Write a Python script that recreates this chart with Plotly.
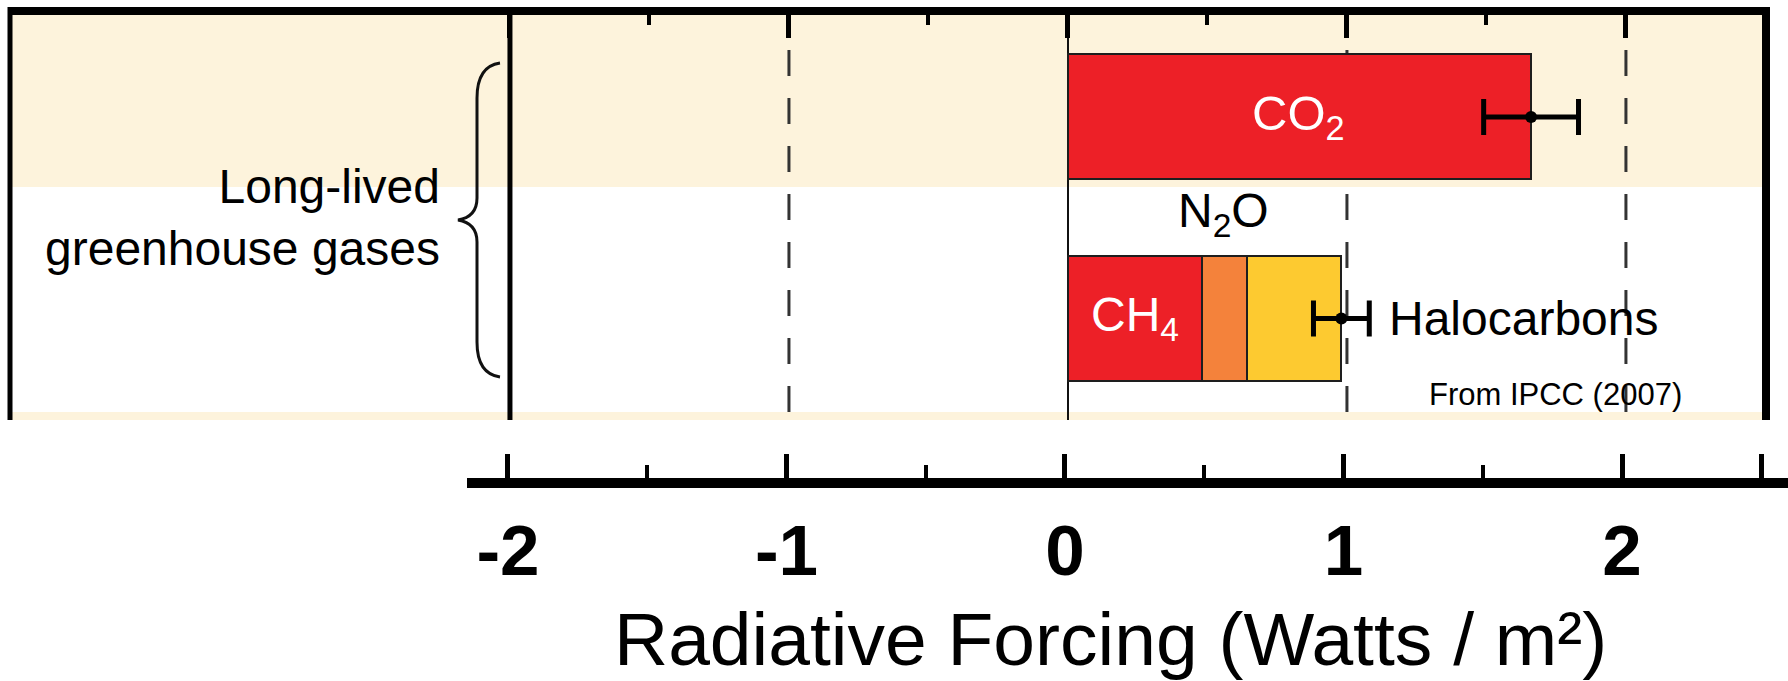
import plotly.graph_objects as go

W, H = 1788, 681

# Radiative forcing of the long-lived greenhouse gases (W/m²)
gases = ["CO<sub>2</sub>", "CH<sub>4</sub>", "N<sub>2</sub>O", "Halocarbons"]
forcing = [1.66, 0.48, 0.16, 0.34]
rows = [1, 0, 0, 0]
colors = ["#ED2027", "#ED2027", "#F4823B", "#FDCA30"]

# Uncertainty range of each row total
row_ids = [1, 0]
range_low = [1.49, 0.88]
range_high = [1.83, 1.08]

tick_vals = [-2, -1, 0, 1, 2]
tick_text = ["-2", "-1", "0", "1", "2"]
minor_vals = [-1.5, -0.5, 0.5, 1.5]
dashed_guides = [-1, 1, 2]

FONT = "Liberation Sans, Arial, sans-serif"


def px(x):
    return x / W


def py(y):
    return 1 - y / H


fig = go.Figure()

for g, v, r, c in zip(gases, forcing, rows, colors):
    fig.add_trace(go.Bar(
        x=[v], y=[r], orientation="h", width=0.62, name=g,
        marker=dict(color=c, line=dict(color="#1e1e1e", width=2)),
        showlegend=False, hoverinfo="skip",
    ))

# row totals with uncertainty bars
totals = [sum(v for v, r in zip(forcing, rows) if r == rid) for rid in row_ids]
fig.add_trace(go.Scatter(
    x=totals, y=row_ids, mode="markers",
    marker=dict(color="black", size=12),
    error_x=dict(type="data", symmetric=False,
                 array=[h - t for h, t in zip(range_high, totals)],
                 arrayminus=[t - l for l, t in zip(range_low, totals)],
                 color="black", thickness=5, width=18),
    showlegend=False, hoverinfo="skip",
))

# carrier for the separate forcing scale below the panel
fig.add_trace(go.Scatter(
    x=tick_vals, y=[0.5] * len(tick_vals), xaxis="x2", yaxis="y2",
    mode="markers", marker=dict(size=1, opacity=0),
    showlegend=False, hoverinfo="skip",
))

shapes = []
# shaded row bands
shapes.append(dict(type="rect", xref="x domain", yref="y", x0=0, x1=1, y0=0.6526, y1=1.52,
                   fillcolor="#FDF3DC", line_width=0, layer="below"))
shapes.append(dict(type="rect", xref="x domain", yref="y", x0=0, x1=1, y0=-0.504, y1=-0.464,
                   fillcolor="#FDF3DC", line_width=0, layer="below"))
# dashed guides
for v in dashed_guides:
    shapes.append(dict(type="line", xref="x", yref="paper", x0=v, x1=v, y0=py(50), y1=py(420),
                       line=dict(color="#333", width=3, dash="26px,22px"), layer="below"))
# frame
shapes.append(dict(type="line", xref="paper", yref="paper", x0=px(10), x1=px(10), y0=py(7), y1=py(420),
                   line=dict(color="black", width=5)))
shapes.append(dict(type="line", xref="paper", yref="paper", x0=px(1766), x1=px(1766), y0=py(7), y1=py(420),
                   line=dict(color="black", width=8)))
shapes.append(dict(type="line", xref="x", yref="paper", x0=-2, x1=-2, y0=py(7), y1=py(420),
                   line=dict(color="black", width=5)))

# curly brace grouping the rows
brace = [("M", [(500, 63)]),
         ("C", [(486, 65), (477, 76), (477, 98)]),
         ("L", [(477, 198)]),
         ("C", [(477, 211), (470, 218), (458, 220)]),
         ("C", [(470, 222), (477, 229), (477, 242)]),
         ("L", [(477, 342)]),
         ("C", [(477, 364), (486, 375), (500, 377)])]
path = " ".join(cmd + " ".join(f"{px(a):.5f},{py(b):.5f}" for a, b in pts) for cmd, pts in brace)
shapes.append(dict(type="path", xref="paper", yref="paper", path=path,
                   line=dict(color="#111", width=3)))

annotations = [
    dict(x=0.828, y=1, xref="x", yref="y", text="CO<sub>2</sub>", showarrow=False,
         font=dict(family=FONT, size=49, color="white"), xanchor="center", yanchor="middle"),
    dict(x=0.24, y=0.0, xref="x", yref="y", text="CH<sub>4</sub>", showarrow=False,
         font=dict(family=FONT, size=48, color="white"), xanchor="center", yanchor="middle"),
    dict(x=0.559, y=0.52, xref="x", yref="y", text="N<sub>2</sub>O", showarrow=False,
         font=dict(family=FONT, size=48, color="black"), xanchor="center", yanchor="middle"),
    dict(x=1.145, y=0.0, xref="x", yref="y", text="Halocarbons", showarrow=False,
         font=dict(family=FONT, size=48, color="black"), xanchor="left", yanchor="middle"),
    dict(x=1.749, y=-0.375, xref="x", yref="y", text="From IPCC (2007)", showarrow=False,
         font=dict(family=FONT, size=31, color="black"), xanchor="center", yanchor="middle"),
    dict(x=-2.244, y=0.5, xref="x", yref="y", text="Long-lived<br>greenhouse gases", showarrow=False,
         align="right", font=dict(family=FONT, size=48, color="black"), xanchor="right", yanchor="middle"),
    dict(x=px(1110), y=py(639), xref="paper", yref="paper",
         text="Radiative Forcing (Watts / m²)", showarrow=False,
         font=dict(family=FONT, size=75, color="black"), xanchor="center", yanchor="middle"),
]

fig.update_layout(
    width=W, height=H, margin=dict(l=0, r=0, t=0, b=0),
    paper_bgcolor="white", plot_bgcolor="white",
    barmode="stack", bargap=0,
    shapes=shapes, annotations=annotations,
    xaxis=dict(domain=[px(10), px(1766)], range=[-3.792, 2.502], side="top",
               showline=True, linewidth=8, linecolor="black",
               tickmode="array", tickvals=tick_vals, ticks="inside", ticklen=23, tickwidth=5,
               tickcolor="black", showticklabels=False, showgrid=False,
               zeroline=True, zerolinecolor="#111", zerolinewidth=2,
               minor=dict(tickmode="array", tickvals=minor_vals, ticks="inside", ticklen=10,
                          tickwidth=4, tickcolor="black", showgrid=False),
               fixedrange=True),
    yaxis=dict(domain=[py(420), py(15)], range=[-0.504, 1.506], visible=False, fixedrange=True),
    xaxis2=dict(domain=[px(467), 1.0], range=[-2.147, 2.596], anchor="y2",
                showline=True, linewidth=10, linecolor="black",
                tickmode="array", tickvals=tick_vals + [2.5], ticktext=tick_text + [""],
                ticks="inside", ticklen=24, tickwidth=5, tickcolor="black",
                ticklabelstandoff=2,
                tickfont=dict(family=FONT, size=71, color="black", weight="bold"),
                showgrid=False, zeroline=False,
                minor=dict(tickmode="array", tickvals=minor_vals, ticks="inside", ticklen=13,
                           tickwidth=4, tickcolor="black", showgrid=False),
                fixedrange=True),
    yaxis2=dict(domain=[py(478), py(470)], range=[0, 1], anchor="x2", visible=False, fixedrange=True),
)

fig.write_html("out.html")
